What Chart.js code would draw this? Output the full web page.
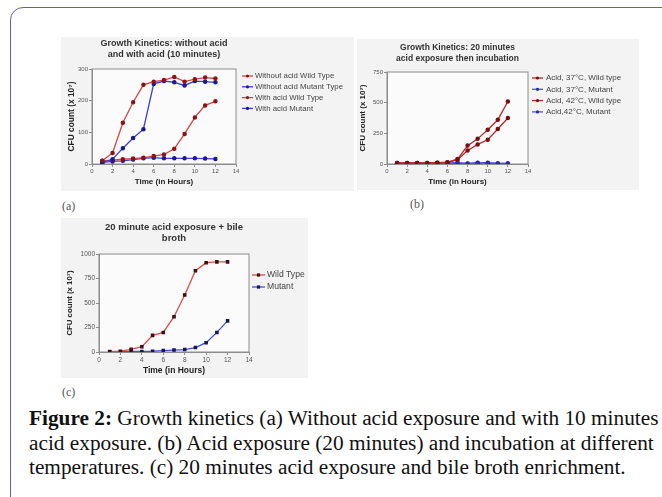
<!DOCTYPE html>
<html><head><meta charset="utf-8">
<script src="https://cdn.jsdelivr.net/npm/chart.js@4.4.1/dist/chart.umd.min.js"></script>
<style>
html,body{margin:0;padding:0;background:#fff;width:662px;height:497px;overflow:hidden;}
#frame{position:absolute;left:10px;top:7px;width:720px;height:600px;border:1.5px solid #6a5ea8;border-radius:13px;box-sizing:border-box;}
.panel{position:absolute;background:#f3f3f3;}
.panel canvas{display:block;}
.lab{position:absolute;font-family:'Liberation Serif',serif;font-size:12px;color:#555;}
#cap{position:absolute;left:29px;top:406px;font-family:'Liberation Serif','Times New Roman',serif;font-size:21.3px;line-height:24.5px;color:#111;white-space:nowrap;}
</style></head><body>
<div id="frame"></div>
<div class="panel" style="left:61px;top:37px;width:293px;height:154px"><canvas id="ca" width="293" height="154"></canvas></div>
<div class="panel" style="left:357px;top:39px;width:282px;height:151px"><canvas id="cb" width="282" height="151"></canvas></div>
<div class="panel" style="left:61px;top:218px;width:247px;height:160px"><canvas id="cc" width="247" height="160"></canvas></div>
<div class="lab" style="left:62px;top:199px">(a)</div>
<div class="lab" style="left:410px;top:197px">(b)</div>
<div class="lab" style="left:62px;top:385px">(c)</div>
<div id="cap"><b>Figure 2:</b> Growth kinetics (a) Without acid exposure and with 10 minutes<br>acid exposure. (b) Acid exposure (20 minutes) and incubation at different<br>temperatures. (c) 20 minutes acid exposure and bile broth enrichment.</div>
<script>
// ---- data ----
const hours = [1,2,3,4,5,6,7,8,9,10,11,12];
const xTicks = [0,2,4,6,8,10,12,14];

const aTitle = ['Growth Kinetics: without acid','and with acid (10 minutes)'];
const aLabels = ['Without acid Wild Type','Without acid Mutant Type','With acid Wild Type','With acid Mutant'];
const aNoAcidWT  = [10, 35, 130, 195, 250, 260, 265, 275, 260, 268, 273, 270];
const aNoAcidMut = [5, 15, 50, 82, 110, 253, 262, 258, 248, 262, 260, 258];
const aAcidWT    = [10, 12, 15, 17, 20, 25, 30, 48, 95, 147, 185, 198];
const aAcidMut   = [5, 8, 10, 14, 18, 20, 18, 18, 18, 18, 17, 16];
const aYTicks = [0,100,200,300];

const bTitle = ['Growth Kinetics: 20 minutes','acid exposure then incubation'];
const bLabels = ['Acid, 37\u00B0C, Wild type','Acid, 37\u00B0C, Mutant','Acid, 42\u00B0C, Wild type','Acid,42\u00B0C, Mutant'];
const b37WT  = [8, 8, 8, 8, 10, 15, 40, 150, 205, 280, 360, 510];
const b37Mut = [5, 5, 5, 5, 5, 8, 10, 3, 10, 10, 5, 5];
const b42WT  = [8, 8, 8, 8, 10, 12, 35, 110, 160, 198, 285, 375];
const b42Mut = [3, 3, 3, 3, 3, 5, 8, 5, 8, 8, 5, 5];
const bYTicks = [0,250,500,750];

const cTitle = ['20 minute acid exposure + bile','broth'];
const cLabels = ['Wild Type','Mutant'];
const cWT  = [5, 8, 27, 54, 170, 200, 360, 582, 830, 912, 920, 920];
const cMut = [2, 3, 5, 5, 8, 15, 20, 25, 45, 95, 200, 318];
const cYTicks = [0,250,500,750,1000];

const yTitle = 'CFU count (x 10\u2077)';
const xTitle = 'Time (in Hours)';

// ---- styles ----
const RED = '#d24444', RED_PT = '#8a1414';
const BLUE = '#3c3ce0', BLUE_PT = '#1a1a90';
const FONT = "'Liberation Sans', Arial, sans-serif";

function pts(ys){ return hours.map((h,i)=>({x:h,y:ys[i]})); }
function ds(label, ys, color, pc, ps){
  return {label, data:pts(ys), borderColor:color, backgroundColor:pc, pointBackgroundColor:pc,
    pointBorderColor:pc, pointRadius:1.6, pointStyle:ps||'circle', borderWidth:1.3, tension:0};
}

const framePlugin = {
  id:'frameBox',
  beforeDatasetsDraw(chart){
    const {ctx, chartArea:a} = chart;
    ctx.save();
    ctx.strokeStyle = '#8c8c8c'; ctx.lineWidth = 1;
    ctx.strokeRect(a.left, a.top, a.right-a.left, a.bottom-a.top);
    ctx.restore();
  },
  beforeDraw(chart){
    const {ctx, chartArea:a} = chart;
    ctx.save(); ctx.fillStyle = '#fbfbfb';
    ctx.fillRect(a.left, a.top, a.right-a.left, a.bottom-a.top);
    ctx.restore();
  }
};
const legendPlugin = {
  id:'sideLegend',
  afterDraw(chart, args, o){
    const ctx = chart.ctx;
    ctx.save();
    ctx.font = o.size + 'px ' + FONT;
    ctx.textBaseline = 'middle';
    chart.data.datasets.forEach((d,i)=>{
      const y = o.y + i*o.dy;
      ctx.strokeStyle = d.borderColor; ctx.lineWidth = 1.3;
      ctx.beginPath(); ctx.moveTo(o.x, y); ctx.lineTo(o.x+o.len, y); ctx.stroke();
      ctx.fillStyle = d.pointBackgroundColor;
      const m = o.x + o.len/2;
      if (d.pointStyle === 'rect') ctx.fillRect(m-1.6, y-1.6, 3.2, 3.2);
      else { ctx.beginPath(); ctx.arc(m, y, 1.6, 0, Math.PI*2); ctx.fill(); }
      ctx.fillStyle = '#444';
      ctx.fillText(d.label, o.x + o.len + o.gap, y);
    });
    ctx.restore();
  }
};

function make(id, datasets, c){
  new Chart(document.getElementById(id), {
    type:'line',
    data:{datasets},
    plugins:[framePlugin, legendPlugin],
    options:{
      responsive:false, animation:false, devicePixelRatio:1,
      layout:{padding:c.pad},
      plugins:{
        legend:{display:false}, tooltip:{enabled:false},
        title:{display:true, text:c.title, fullSize:false, color:'#333',
          font:{family:FONT, size:c.tSize, weight:'bold', lineHeight:c.tLH},
          padding:c.tPad},
        sideLegend:c.leg
      },
      scales:{
        x:{type:'linear', min:0, max:14,
          afterBuildTicks:s=>{ s.ticks = xTicks.map(v=>({value:v})); },
          afterFit:s=>{ s.height = c.xH; },
          grid:{display:true, drawOnChartArea:false, drawTicks:true, tickLength:3, color:'#8c8c8c'},
          border:{display:true, color:'#8c8c8c'},
          ticks:{font:{family:FONT, size:c.kSize}, color:'#555', padding:1, maxRotation:0, autoSkip:false, callback:v=>String(v)},
          title:{display:true, text:xTitle, color:'#222', font:{family:FONT, size:c.xtSize, weight:'bold', lineHeight:1.2}, padding:{top:0,bottom:c.xtPad}}
        },
        y:{type:'linear', min:0, max:c.yMax,
          afterBuildTicks:s=>{ s.ticks = c.yTicks.map(v=>({value:v})); },
          afterFit:s=>{ s.width = c.yW; },
          grid:{display:true, drawOnChartArea:false, drawTicks:true, tickLength:3, color:'#8c8c8c'},
          border:{display:true, color:'#8c8c8c'},
          ticks:{font:{family:FONT, size:c.kSize}, color:'#555', padding:1, autoSkip:false, callback:v=>String(v)},
          title:{display:true, text:yTitle, color:'#222', font:{family:FONT, size:c.ytSize, weight:'bold', lineHeight:1.2}, padding:{top:c.ytPad,bottom:0}}
        }
      }
    }
  });
}

make('ca', [
  ds(aLabels[0], aNoAcidWT, RED, RED_PT),
  ds(aLabels[1], aNoAcidMut, BLUE, BLUE_PT),
  ds(aLabels[2], aAcidWT, RED, RED_PT),
  ds(aLabels[3], aAcidMut, BLUE, BLUE_PT)
], {pad:{left:3,right:118,top:0,bottom:2}, title:aTitle, tSize:9, tLH:1.3, tPad:{top:0.45,bottom:8.15},
    xH:25, yW:28, kSize:6, xtSize:8, xtPad:2.2, ytSize:8.4, ytPad:3, yMax:300, yTicks:aYTicks,
    leg:{x:181, y:39, dy:10.8, len:11, gap:2, size:7.8}});

make('cb', [
  ds(bLabels[0], b37WT, '#b8242c', '#7a0c10'),
  ds(bLabels[1], b37Mut, '#5050e6', '#2a2aa8'),
  ds(bLabels[2], b42WT, '#b8242c', '#7a0c10'),
  ds(bLabels[3], b42Mut, '#5050e6', '#2a2aa8')
], {pad:{left:0,right:111,top:0,bottom:2}, title:bTitle, tSize:8.5, tLH:1.26, tPad:{top:3.35,bottom:8.25},
    xH:24, yW:30, kSize:6, xtSize:8, xtPad:1.5, ytSize:8, ytPad:0.7, yMax:750, yTicks:bYTicks,
    leg:{x:175, y:39, dy:11.3, len:11, gap:3, size:8}});

make('cc', [
  ds(cLabels[0], cWT, '#e04a4a', '#3a1010', 'rect'),
  ds(cLabels[1], cMut, '#4a4ae8', '#18184a', 'rect')
], {pad:{left:0,right:59,top:0,bottom:2}, title:cTitle, tSize:9.5, tLH:1.16, tPad:{top:3.5,bottom:10.5},
    xH:24, yW:38, kSize:6.5, xtSize:8.5, xtPad:0, ytSize:7.8, ytPad:4.3, yMax:1000, yTicks:cYTicks,
    leg:{x:191, y:57, dy:12, len:13, gap:2, size:8.6}});
</script>
</body></html>
